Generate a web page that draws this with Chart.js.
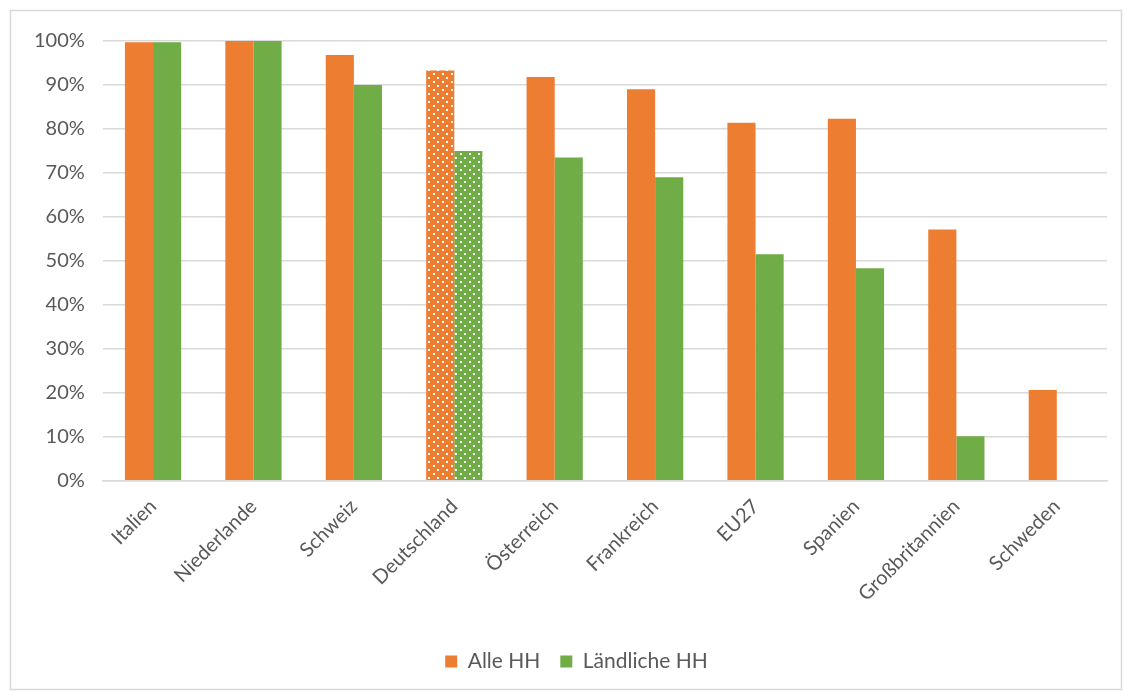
<!DOCTYPE html>
<html>
<head>
<meta charset="utf-8">
<script src="https://cdn.jsdelivr.net/npm/chart.js@4/dist/chart.umd.min.js"></script>
<style>
html,body{margin:0;padding:0;background:#fff;}
#wrap{position:absolute;left:0;top:0;width:1133px;height:697px;}
</style>
</head>
<body>
<div id="wrap"><canvas id="c" width="1133" height="697"></canvas></div>
<script>
const categories = ["Italien","Niederlande","Schweiz","Deutschland","Österreich","Frankreich","EU27","Spanien","Großbritannien","Schweden"];
const alleHH = [99.7, 100, 96.8, 93.3, 91.8, 89.0, 81.4, 82.3, 57.1, 20.6];
const laendlicheHH = [99.7, 100, 90.0, 75.0, 73.5, 69.0, 51.5, 48.3, 10.1, null];
const yTicks = [0,10,20,30,40,50,60,70,80,90,100];
const seriesNames = ["Alle HH", "Ländliche HH"];
const ORANGE = "#ED7D31", GREEN = "#70AD47";
const patternIndex = 3;

function dotPattern(color){
  const p = document.createElement('canvas');
  p.width = 9; p.height = 8;
  const g = p.getContext('2d');
  g.fillStyle = color; g.fillRect(0,0,9,8);
  g.fillStyle = '#ffffff';
  g.fillRect(1,1,2,2);
  g.fillRect(5,5,2,2);
  return g.createPattern(p,'repeat');
}
function colors(base){
  return categories.map((_,i)=> i===patternIndex ? dotPattern(base) : base);
}

const frame = {
  id:'frame',
  afterLayout(chart){
    if (chart.legend){ chart.legend.left += 15; chart.legend.right += 15; }
  },
  beforeDraw(chart){
    const ctx = chart.ctx;
    ctx.save();
    ctx.fillStyle='#fff';
    ctx.fillRect(0,0,chart.width,chart.height);
    ctx.strokeStyle='#d9d9d9';
    ctx.lineWidth=1.5;
    ctx.strokeRect(10.5,10.5,1111,679);
    ctx.restore();
  }
};

const font = "Lato, 'Open Sans', sans-serif";
new Chart(document.getElementById('c'), {
  type:'bar',
  data:{
    labels:categories,
    datasets:[
      {label:seriesNames[0], data:alleHH, backgroundColor:colors(ORANGE), borderWidth:0},
      {label:seriesNames[1], data:laendlicheHH, backgroundColor:colors(GREEN), borderWidth:0}
    ]
  },
  options:{
    responsive:false,
    animation:false,
    devicePixelRatio:1,
    layout:{padding:{left:16,right:26,top:41,bottom:15}},
    datasets:{bar:{categoryPercentage:0.56,barPercentage:1.0}},
    plugins:{
      legend:{
        position:'bottom',
        labels:{boxWidth:12,boxHeight:12,padding:20,color:'#595959',font:{family:font,size:21}}
      },
      tooltip:{enabled:false}
    },
    scales:{
      x:{
        grid:{display:false},
        border:{color:'#d9d9d9',width:1.5},
        afterFit(axis){ axis.height += 19; },
        ticks:{color:'#595959',font:{family:font,size:20},maxRotation:45,minRotation:45,autoSkip:false,padding:6}
      },
      y:{
        min:0,max:100,
        afterBuildTicks(axis){ axis.ticks = yTicks.map(v=>({value:v})); },
        grid:{color:'#d9d9d9',lineWidth:1.5,drawTicks:false},
        border:{display:false},
        ticks:{color:'#595959',font:{family:font,size:20},padding:18,callback:v=>v+'%'}
      }
    }
  },
  plugins:[frame]
});
</script>
</body>
</html>
